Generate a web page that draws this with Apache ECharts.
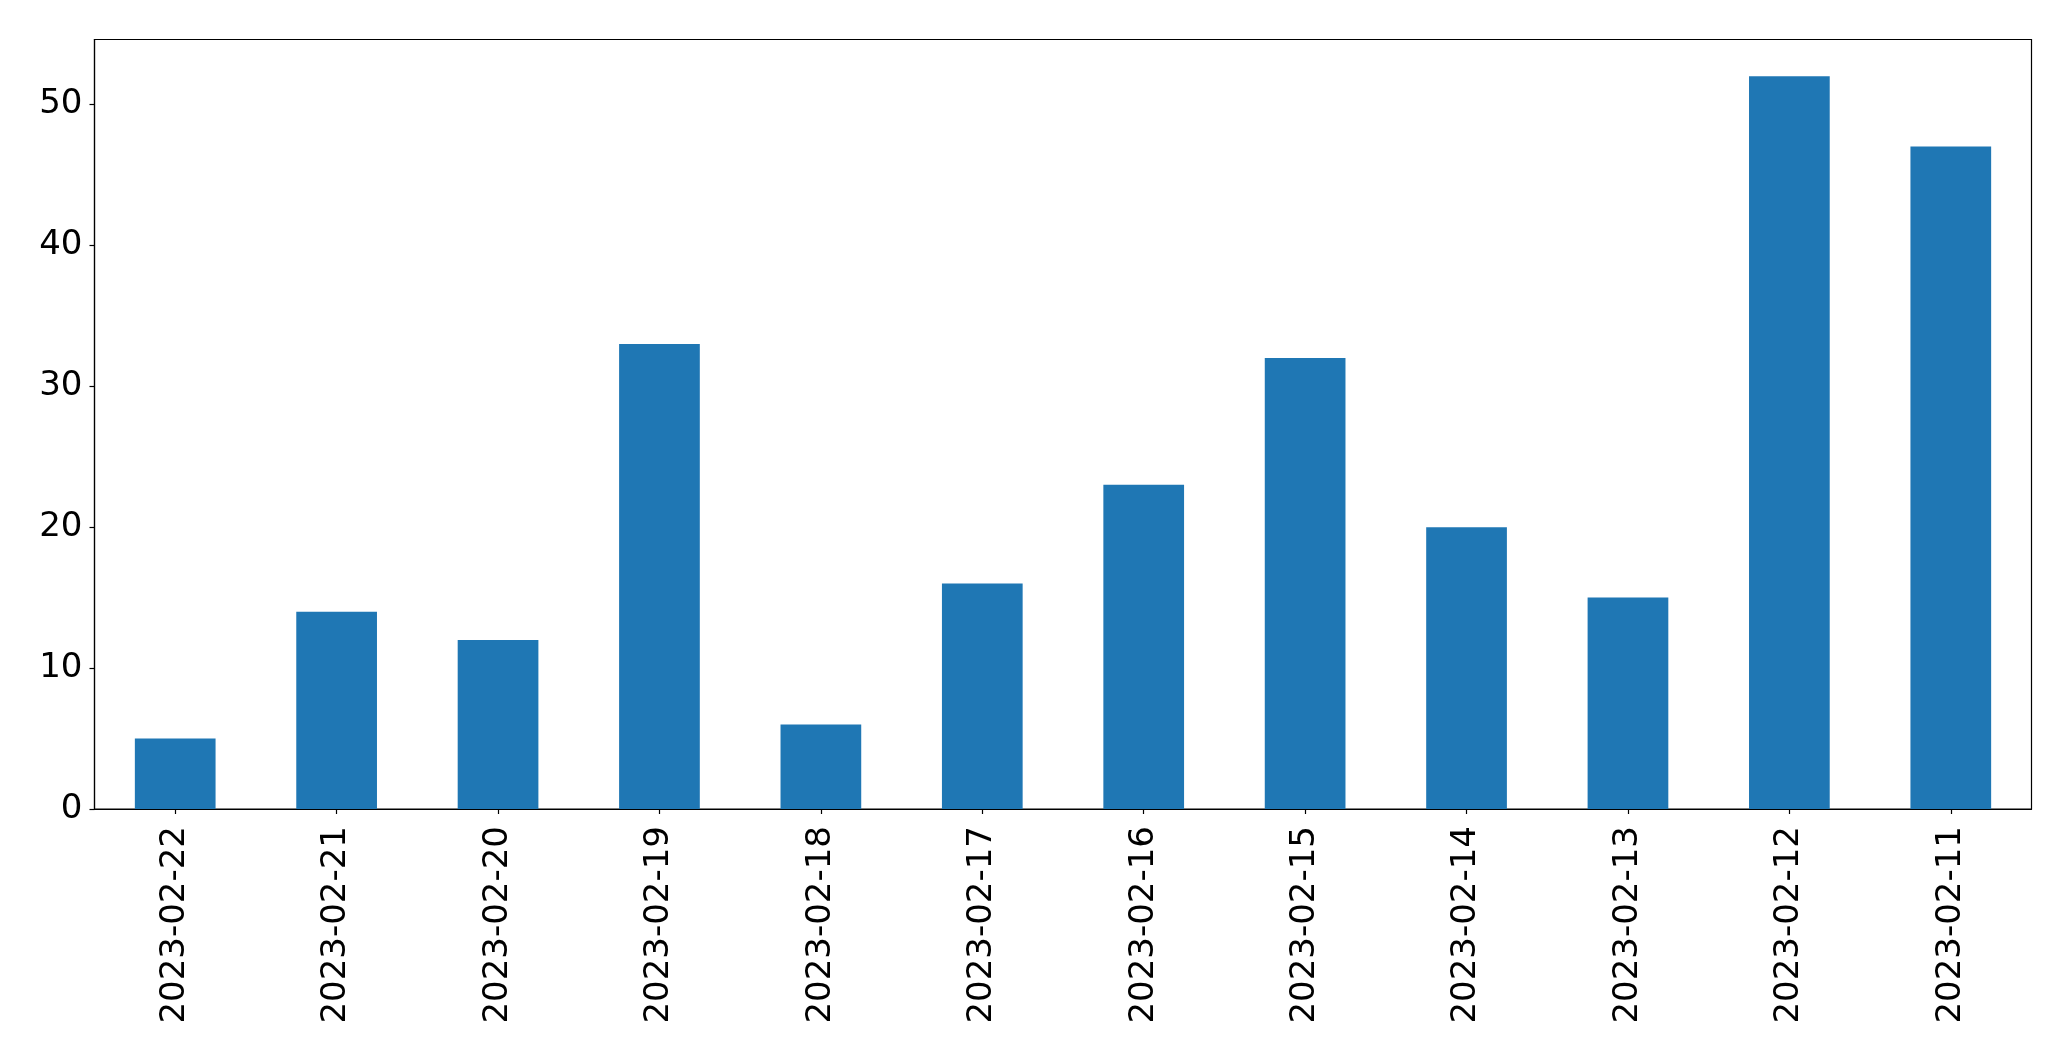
<!DOCTYPE html>
<html>
<head>
<meta charset="utf-8">
<script src="https://cdn.jsdelivr.net/npm/echarts@6/dist/echarts.min.js"></script>
<style>
html,body{margin:0;padding:0;background:#fff;}
#chart{width:2071px;height:1061px;}
</style>
</head>
<body>
<div id="chart"></div>
<script>
const categories = ['2023-02-22','2023-02-21','2023-02-20','2023-02-19','2023-02-18','2023-02-17','2023-02-16','2023-02-15','2023-02-14','2023-02-13','2023-02-12','2023-02-11'];
const values = [5,14,12,33,6,16,23,32,20,15,52,47];
const yTicks = [0,10,20,30,40,50];

const chart = echarts.init(document.getElementById('chart'));
const font = 'DejaVu Sans';
chart.setOption({
  animation: false,
  backgroundColor: '#fff',
  grid: {left: 94.5, right: 39.5, top: 39.5, bottom: 252, show: true, borderColor: '#000', borderWidth: 1.2, containLabel: false},
  xAxis: {
    type: 'category',
    data: categories,
    boundaryGap: true,
    axisLine: {show: true, lineStyle: {color: '#000', width: 1.2}},
    axisTick: {show: true, alignWithLabel: true, length: 5, lineStyle: {color: '#000', width: 1.2}},
    axisLabel: {rotate: 90, margin: 17, color: '#000', fontSize: 34, fontFamily: font, interval: 0},
    splitLine: {show: false}
  },
  yAxis: {
    type: 'value',
    min: 0,
    max: 54.6,
    axisLine: {show: true, lineStyle: {color: '#000', width: 1.2}},
    axisTick: {show: true, length: 5, customValues: yTicks, lineStyle: {color: '#000', width: 1.2}},
    axisLabel: {margin: 12, color: '#000', fontSize: 34, fontFamily: font, customValues: yTicks},
    splitLine: {show: false}
  },
  series: [{
    type: 'bar',
    data: values,
    barWidth: '50%',
    itemStyle: {color: '#1f77b4'}
  }]
});
</script>
</body>
</html>
